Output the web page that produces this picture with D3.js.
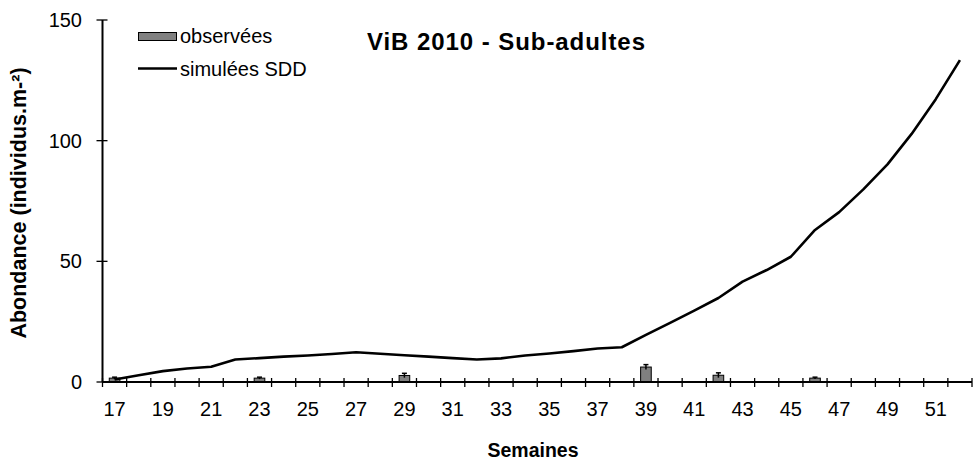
<!DOCTYPE html>
<html>
<head>
<meta charset="utf-8">
<script src="https://cdn.jsdelivr.net/npm/d3@7"></script>
<style>
  html, body { margin: 0; padding: 0; background: #fff; }
  svg { display: block; }
  text { font-family: "Liberation Sans", Arial, sans-serif; fill: #000; }
</style>
</head>
<body>
<svg id="chart" width="977" height="464"></svg>
<script>
// Weeks (semaines) on the category axis
const weeks = d3.range(17, 53);
// Tick labels shown on the x axis (every other week)
const weekLabels = [17, 19, 21, 23, 25, 27, 29, 31, 33, 35, 37, 39, 41, 43, 45, 47, 49, 51];

// Simulated abundance (SDD model), one value per week 17..52
const simulated = [
  1.0, 2.8, 4.5, 5.6, 6.3, 9.3, 9.9, 10.5, 11.0, 11.6, 12.3, 11.7,
  11.1, 10.5, 9.9, 9.3, 9.8, 11.0, 11.8, 12.8, 13.9, 14.4, 19.5, 24.5,
  29.6, 34.8, 41.6, 46.4, 51.9, 63.0, 70.4, 79.8, 90.2, 102.8, 117.2, 133.4
];

// Observed abundance (weeks with samples) and their error half-widths
const obsWeeks = [17, 23, 29, 39, 42, 46];
const observed = [1.6, 1.6, 2.7, 6.2, 2.8, 1.6];
const obsError = [0.4, 0.4, 0.9, 1.0, 1.0, 0.4];

const yTicks = [0, 50, 100, 150];

const svg = d3.select("#chart");
const plotLeft = 102.5, plotRight = 972, plotTop = 20, plotBottom = 382;

const x = d3.scaleBand().domain(weeks).range([plotLeft, plotRight]).padding(0);
const y = d3.scaleLinear().domain([0, 150]).range([plotBottom, plotTop]);
const bw = x.bandwidth();
const barW = bw * 0.44;

// Observed bars with error bars
const bars = svg.append("g");
obsWeeks.forEach((w, i) => {
  bars.append("rect")
    .attr("x", x(w) + (bw - barW) / 2)
    .attr("y", y(observed[i]))
    .attr("width", barW)
    .attr("height", y(0) - y(observed[i]))
    .attr("fill", "#808080")
    .attr("stroke", "#000")
    .attr("stroke-width", 1);
  const cx = x(w) + bw / 2;
  const y1 = y(observed[i] - obsError[i]);
  const y2 = y(observed[i] + obsError[i]);
  bars.append("line").attr("x1", cx).attr("x2", cx).attr("y1", y1).attr("y2", y2)
    .attr("stroke", "#000").attr("stroke-width", 1.5);
  bars.append("line").attr("x1", cx - 2.5).attr("x2", cx + 2.5).attr("y1", y2).attr("y2", y2)
    .attr("stroke", "#000").attr("stroke-width", 1.5);
});

// Simulated line
const line = d3.line()
  .x((d, i) => x(weeks[i]) + bw / 2)
  .y(d => y(d));
svg.append("path")
  .datum(simulated)
  .attr("d", line)
  .attr("fill", "none")
  .attr("stroke", "#000")
  .attr("stroke-width", 2.6)
  .attr("stroke-linejoin", "round");

// Y axis
const yAxis = svg.append("g");
yAxis.append("line").attr("x1", plotLeft).attr("x2", plotLeft).attr("y1", plotTop).attr("y2", plotBottom)
  .attr("stroke", "#000").attr("stroke-width", 2);
yTicks.forEach(t => {
  yAxis.append("line").attr("x1", plotLeft - 6).attr("x2", plotLeft + 5)
    .attr("y1", y(t)).attr("y2", y(t)).attr("stroke", "#000").attr("stroke-width", 1.3);
  yAxis.append("text").attr("x", 82).attr("y", y(t)).attr("dy", "0.35em")
    .attr("text-anchor", "end").attr("font-size", 20).text(t);
});

// X axis: ticks between categories, crossing the axis line
const xAxis = svg.append("g");
xAxis.append("line").attr("x1", plotLeft).attr("x2", plotRight).attr("y1", plotBottom).attr("y2", plotBottom)
  .attr("stroke", "#000").attr("stroke-width", 2);
weeks.concat([53]).forEach(w => {
  const xp = w === 53 ? plotRight : x(w);
  xAxis.append("line").attr("x1", xp).attr("x2", xp).attr("y1", plotBottom - 4).attr("y2", plotBottom + 5)
    .attr("stroke", "#000").attr("stroke-width", 1.3);
});
weekLabels.forEach(w => {
  xAxis.append("text").attr("x", x(w) + bw / 2).attr("y", 416)
    .attr("text-anchor", "middle").attr("font-size", 20).text(w);
});

// Axis titles
svg.append("text").attr("x", 533).attr("y", 457).attr("text-anchor", "middle")
  .attr("font-size", 19.5).attr("font-weight", "bold").text("Semaines");
svg.append("text").attr("transform", "translate(26,203) rotate(-90)")
  .attr("text-anchor", "middle").attr("font-size", 21.5).attr("font-weight", "bold")
  .text("Abondance (individus.m-²)");

// Title
svg.append("text").attr("x", 506).attr("y", 50).attr("text-anchor", "middle")
  .attr("font-size", 24).attr("font-weight", "bold")
  .attr("textLength", 278).attr("lengthAdjust", "spacing")
  .text("ViB 2010 - Sub-adultes");

// Legend
const lg = svg.append("g");
lg.append("rect").attr("x", 138.5).attr("y", 32.5).attr("width", 38).attr("height", 8)
  .attr("fill", "#808080").attr("stroke", "#000").attr("stroke-width", 1);
lg.append("text").attr("x", 180).attr("y", 43).attr("font-size", 20).text("observées");
lg.append("line").attr("x1", 138).attr("x2", 177).attr("y1", 68.5).attr("y2", 68.5)
  .attr("stroke", "#000").attr("stroke-width", 2.5);
lg.append("text").attr("x", 180).attr("y", 76).attr("font-size", 20).text("simulées SDD");
</script>
</body>
</html>
